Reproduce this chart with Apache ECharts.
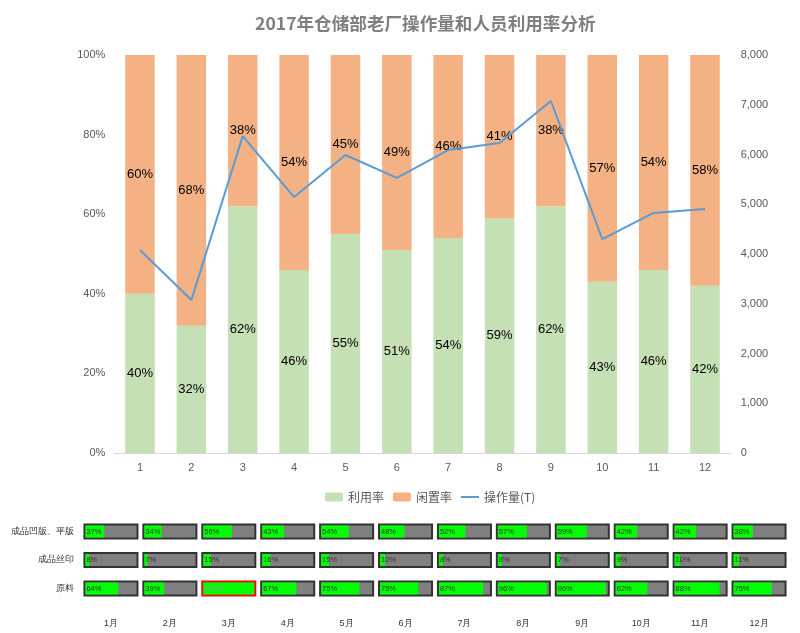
<!DOCTYPE html>
<html>
<head>
<meta charset="utf-8">
<script src="https://cdn.jsdelivr.net/npm/echarts@6/dist/echarts.min.js"></script>
<style>html,body{margin:0;padding:0;background:#fff}#c{width:800px;height:633px}</style>
</head>
<body>
<div id="c"></div>
<script>
const categories = ['1','2','3','4','5','6','7','8','9','10','11','12'];
const utilRate = [40, 32, 62, 46, 55, 51, 54, 59, 62, 43, 46, 42];
const idleRate = [60, 68, 38, 54, 45, 49, 46, 41, 38, 57, 54, 58];
const volume = [4080, 3075, 6370, 5145, 5990, 5530, 6090, 6230, 7075, 4300, 4825, 4905];

const months = ['1月','2月','3月','4月','5月','6月','7月','8月','9月','10月','11月','12月'];
const rowNames = ['成品凹版、平版','成品丝印','原料'];
const rowPrint = [37, 34, 56, 43, 54, 48, 52, 57, 59, 42, 42, 38];
const rowScreen = [8, 7, 15, 16, 15, 10, 8, 8, 7, 9, 10, 11];
const rowRaw = [64, 39, 102, 67, 75, 75, 87, 96, 96, 62, 88, 75];

const rows = [rowPrint, rowScreen, rowRaw];
const cellData = [];
rows.forEach((arr, r) => arr.forEach((v, m) => cellData.push([m, r, v])));

const chart = echarts.init(document.getElementById('c'));
const axisColor = '#595959';
chart.setOption({
  animation: false,
  graphic: [{
    type: 'text', left: 255, top: 15,
    style: { text: '2017年仓储部老厂操作量和人员利用率分析', font: 'bold 17.6px "Noto Sans CJK SC", sans-serif', fill: '#7f7f7f' }
  }],
  legend: {
    left: 320, top: 486, itemWidth: 18, itemHeight: 9, itemGap: 9,
    textStyle: { color: axisColor, fontSize: 12, fontFamily: '"Noto Sans CJK SC", sans-serif' },
    data: ['利用率', '闲置率', { name: '操作量(T)', icon: 'path://M0,0 L18,0 L18,2 L0,2 Z' }]
  },
  grid: [
    { left: 114.3, right: 69.3, top: 55, bottom: 180 },
    { left: 81.5, right: 11.5, top: 517.25, height: 85.5 }
  ],
  xAxis: [
    { type: 'category', data: categories, gridIndex: 0,
      axisLine: { lineStyle: { color: '#d9d9d9' } }, axisTick: { show: false },
      axisLabel: { color: axisColor, fontSize: 11, margin: 9 } },
    { type: 'category', data: months, gridIndex: 1,
      axisLine: { show: false }, axisTick: { show: false },
      axisLabel: { color: '#333', fontSize: 9, margin: 16 } }
  ],
  yAxis: [
    { type: 'value', gridIndex: 0, min: 0, max: 100, interval: 20,
      axisLabel: { formatter: '{value}%', color: axisColor, fontSize: 11, margin: 9 },
      splitLine: { show: false }, axisLine: { show: false }, axisTick: { show: false } },
    { type: 'value', gridIndex: 0, min: 0, max: 8000, interval: 1000, position: 'right',
      axisLabel: { color: axisColor, fontSize: 11, margin: 10,
        formatter: v => v.toLocaleString('en-US') },
      splitLine: { show: false }, axisLine: { show: false }, axisTick: { show: false } },
    { type: 'category', data: rowNames, gridIndex: 1, inverse: true,
      axisLine: { show: false }, axisTick: { show: false },
      axisLabel: { color: '#333', fontSize: 9, margin: 8 } }
  ],
  series: [
    { name: '利用率', type: 'bar', stack: 'a', xAxisIndex: 0, yAxisIndex: 0, barWidth: 29.5,
      itemStyle: { color: '#C5E0B4' }, data: utilRate,
      label: { show: true, position: 'inside', formatter: '{c}%', color: '#000', fontSize: 13 } },
    { name: '闲置率', type: 'bar', stack: 'a', xAxisIndex: 0, yAxisIndex: 0, barWidth: 29.5,
      itemStyle: { color: '#F4B183' }, data: idleRate,
      label: { show: true, position: 'inside', formatter: '{c}%', color: '#000', fontSize: 13 } },
    { name: '操作量(T)', type: 'line', xAxisIndex: 0, yAxisIndex: 1, symbol: 'none',
      lineStyle: { color: '#5B9BD5', width: 2 }, itemStyle: { color: '#5B9BD5' }, data: volume },
    { name: 'cells', type: 'custom', xAxisIndex: 1, yAxisIndex: 2, data: cellData,
      renderItem: function (params, api) {
        const c = api.coord([api.value(0), api.value(1)]);
        const size = api.size([1, 1]);
        const w = size[0] * 0.9, h = 14;
        const v = api.value(2);
        const x0 = c[0] - w / 2, y0 = c[1] - h / 2;
        const over = v > 100;
        const fw = (w - 2) * Math.min(v, 100) / 100;
        return { type: 'group', children: [
          { type: 'rect', shape: { x: x0, y: y0, width: w, height: h },
            style: { fill: '#808080', stroke: over ? '#ff0000' : '#333', lineWidth: 2 } },
          { type: 'rect', shape: { x: x0 + 1, y: y0 + 1, width: fw, height: h - 2 },
            style: { fill: '#00ff00' } },
          { type: 'text', x: x0 + 2, y: c[1],
            style: { text: v + '%', fill: over ? '#999' : '#333', fontSize: 7.5, verticalAlign: 'middle', align: 'left' } }
        ] };
      }
    }
  ]
});
</script>
</body>
</html>
